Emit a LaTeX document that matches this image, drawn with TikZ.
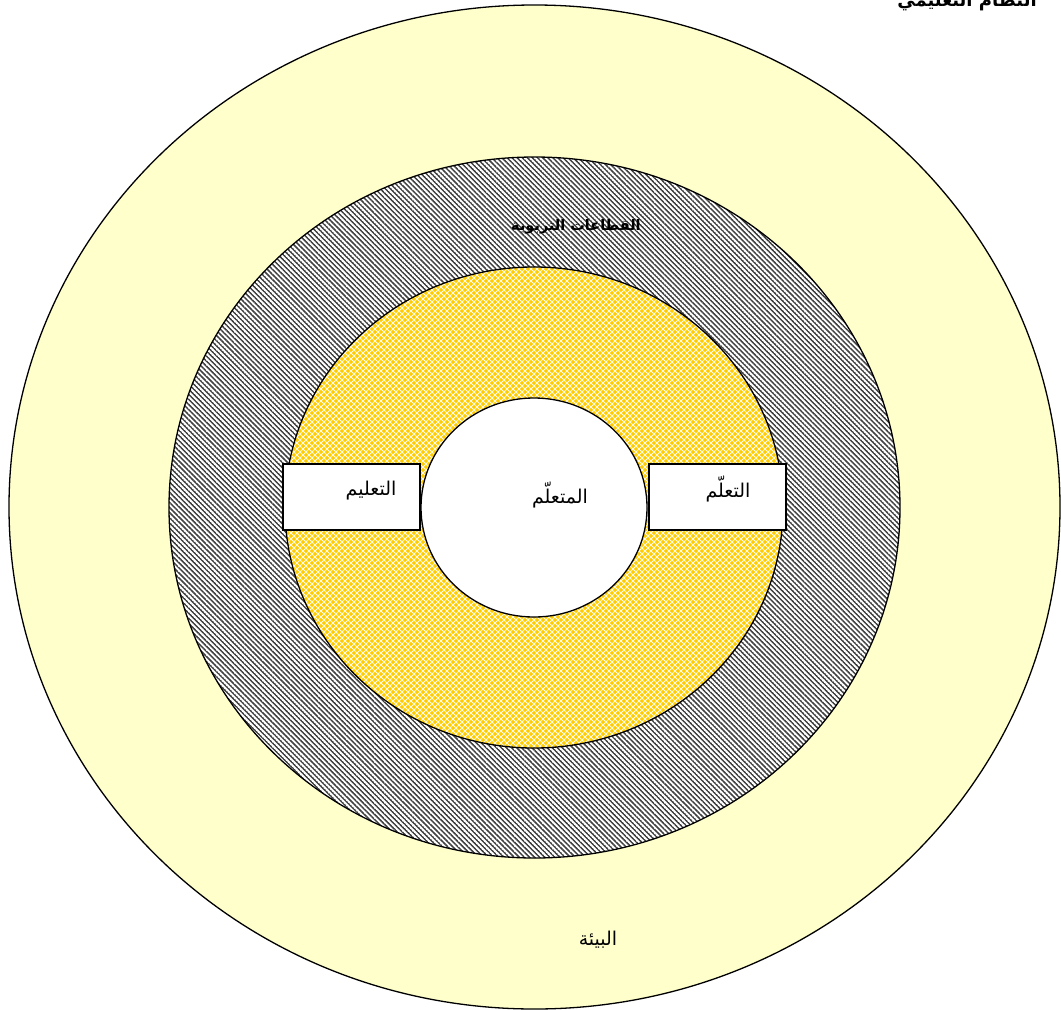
\documentclass[tikz,border=0pt]{standalone}
\usepackage{fontspec}
\usetikzlibrary{shapes.geometric,patterns,patterns.meta}
\newfontfamily\arabicfont[Script=Arabic]{DejaVu Sans}
\TeXXeTstate=1
\definecolor{envyellow}{RGB}{255,255,204}
\definecolor{ringgold}{RGB}{255,204,0}
\tikzdeclarepattern{
  name=mylines,
  parameters={
      /pgf/pattern keys/size,
      /pgf/pattern keys/angle,
      /pgf/pattern keys/line width,
  },
  bounding box={
    (0,-0.5*\pgfkeysvalueof{/pgf/pattern keys/line width}) and
    (\pgfkeysvalueof{/pgf/pattern keys/size},
0.5*\pgfkeysvalueof{/pgf/pattern keys/line width})},
  tile size={(\pgfkeysvalueof{/pgf/pattern keys/size},
\pgfkeysvalueof{/pgf/pattern keys/size})},
  tile transformation={rotate=\pgfkeysvalueof{/pgf/pattern keys/angle}},
  defaults={
    size/.initial=5pt,
    angle/.initial=45,
    line width/.initial=.4pt,
  },
  code={
      \draw [line width=\pgfkeysvalueof{/pgf/pattern keys/line width}]
        (0,0) -- (\pgfkeysvalueof{/pgf/pattern keys/size},0);
  },
}
\pgfdeclarepatternformonly{goldgrid}{\pgfqpoint{-1pt}{-1pt}}{\pgfqpoint{7pt}{7pt}}{\pgfqpoint{6pt}{6pt}}{
  \pgfsetlinewidth{0.8pt}
  \pgfpathmoveto{\pgfqpoint{-0.5pt}{-0.5pt}}\pgfpathlineto{\pgfqpoint{6.5pt}{6.5pt}}
  \pgfpathmoveto{\pgfqpoint{-0.5pt}{6.5pt}}\pgfpathlineto{\pgfqpoint{6.5pt}{-0.5pt}}
  \pgfusepath{stroke}}
\begin{document}
\begin{tikzpicture}[x=1pt,y=-1pt,
  ring/.style={ellipse, draw=black, line width=1.3pt, inner sep=0pt},
  labelbox/.style={rectangle, draw=black, line width=1.3pt, fill=white,
    minimum width=137pt, minimum height=66pt, inner sep=0pt},
  arlabel/.style={font=\arabicfont\fontsize{19}{22}\selectfont, inner sep=0pt},
  boldlabel/.style={font=\arabicfont\bfseries\fontsize{14.5}{17}\selectfont, inner sep=0pt},
  toplabel/.style={font=\arabicfont\bfseries\fontsize{18}{21}\selectfont, inner sep=0pt}]
\clip (0,0) rectangle (1061,1010);
\fill[white] (0,0) rectangle (1061,1010);
\node[ring, fill=envyellow, minimum width=1051pt, minimum height=1004pt] (env) at (534.5,507) {};
\node[ring, preaction={fill=white}, pattern={mylines[size=3.6pt,line width=1.5pt,angle=-45]},
  pattern color=black!75, minimum width=731pt, minimum height=701pt] (sect) at (534.5,507.5) {};
\node[ring, preaction={fill=ringgold}, pattern=goldgrid, pattern color=white!90!ringgold,
  minimum width=498pt, minimum height=481pt] (gold) at (534,507.5) {};
\node[ring, fill=white, minimum width=226pt, minimum height=219pt] (learner) at (534,507.5) {};
\node[labelbox] (teachbox) at (351.5,497) {};
\node[labelbox] (learnbox) at (717.5,497) {};
\node[arlabel] (teach) at (371,491) {\beginR التعليم\endR};
\node[arlabel] (learnerlbl) at (560,495) {\beginR المتعلّم\endR};
\node[arlabel] (learn) at (728,489) {\beginR التعلّم\endR};
\node[arlabel] (envlbl) at (598,940) {\beginR البيئة\endR};
\node[boldlabel] (sectlbl) at (576,227) {\beginR القطاعات التربوية\endR};
\node[toplabel, anchor=base] (syslbl) at (967,6) {\beginR النظام التعليمي\endR};
\end{tikzpicture}
\end{document}
